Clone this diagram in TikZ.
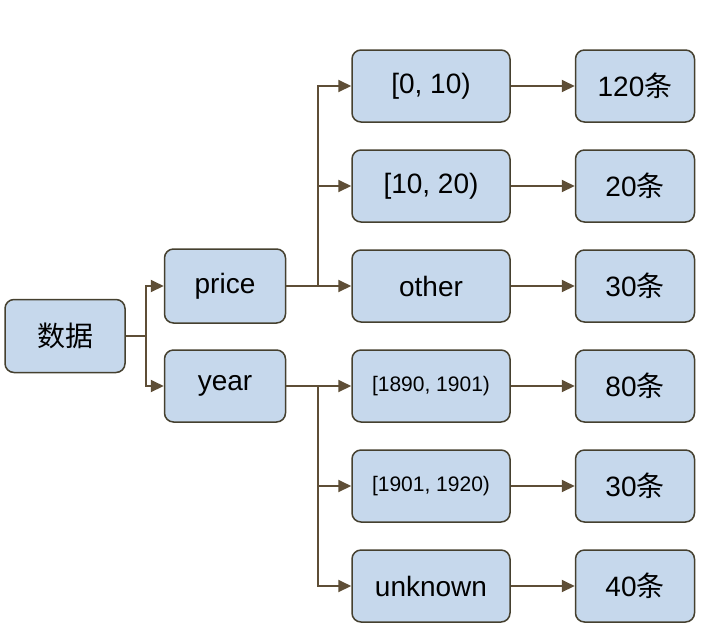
\documentclass[tikz,border=0pt]{standalone}
\usepackage{fontspec}
\setmainfont{Liberation Sans}
\newfontfamily\cjk{Noto Sans CJK SC}
\usepackage{tikz}
\usetikzlibrary{positioning, arrows.meta}
\definecolor{boxfill}{HTML}{C6D8EC}
\definecolor{boxline}{HTML}{45402F}
\definecolor{wire}{HTML}{5E4E36}
\tikzset{
  box/.style={draw=boxline, line width=1.5pt, rounded corners=9pt, fill=boxfill, align=center, font=\fontsize{28}{32}\selectfont, minimum height=72pt, inner sep=2pt},
  binbox/.style={box, minimum width=158pt},
  tallybox/.style={box, minimum width=119pt},
  arrow/.style={-{Triangle[length=13pt, width=12pt]}, line width=2pt, draw=wire},
}
\begin{document}
\begin{tikzpicture}[x=1pt, y=-1pt, node distance=26.5pt and 64pt]
  \useasboundingbox (0,0) rectangle (709,633);

  % root and the two fields
  \node[box, minimum width=120pt, minimum height=73pt] (data) at (65,336) {\cjk 数据};

  % price ranges
  \node[binbox] (p0) at (431,86) {[0, 10)};
  \node[binbox, below=of p0] (p1) {[10, 20)};
  \node[binbox, below=of p1] (p2) {other};

  % year ranges
  \node[binbox, below=of p2, font=\fontsize{21}{25}\selectfont] (y0) {[1890, 1901)};
  \node[binbox, below=of y0, font=\fontsize{21}{25}\selectfont] (y1) {[1901, 1920)};
  \node[binbox, below=of y1] (y2) {unknown};

  % counts
  \node[tallybox, right=of p0] (c0) {120{\cjk 条}};
  \node[tallybox, right=of p1] (c1) {20{\cjk 条}};
  \node[tallybox, right=of p2] (c2) {30{\cjk 条}};
  \node[tallybox, right=of y0] (c3) {80{\cjk 条}};
  \node[tallybox, right=of y1] (c4) {30{\cjk 条}};
  \node[tallybox, right=of y2] (c5) {40{\cjk 条}};

  \node[box, minimum width=121pt, minimum height=74pt, left=65pt of p2] (price) {price};
  \node[box, minimum width=121pt, left=65pt of y0] (year) {year};

  % edges
  \draw[arrow] (data.east) -- ++(20,0) |- (price.west);
  \draw[arrow] (data.east) -- ++(20,0) |- (year.west);
  \foreach \r in {p0,p1,p2}
    \draw[arrow] (price.east) -- ++(32,0) |- (\r.west);
  \foreach \r in {y0,y1,y2}
    \draw[arrow] (year.east) -- ++(32,0) |- (\r.west);
  \foreach \r/\c in {p0/c0,p1/c1,p2/c2,y0/c3,y1/c4,y2/c5}
    \draw[arrow] (\r) -- (\c);
\end{tikzpicture}
\end{document}
